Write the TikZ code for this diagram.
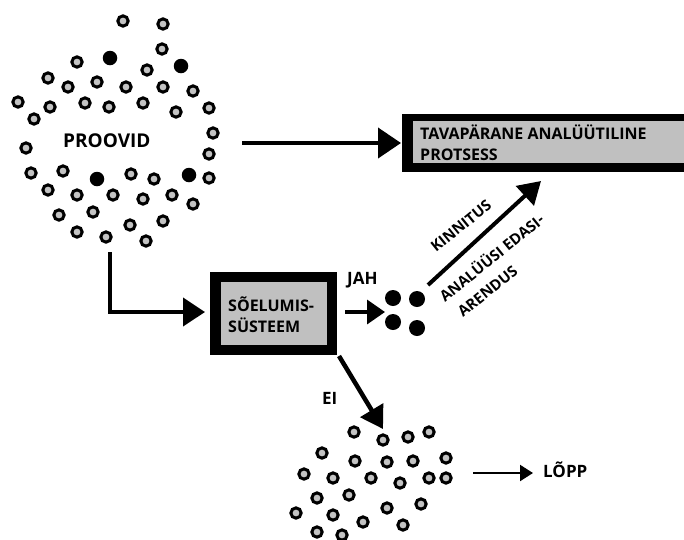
\documentclass[tikz,border=0pt]{standalone}
\usepackage{fontspec}
\setmainfont{Open Sans}
\usetikzlibrary{arrows.meta}
\definecolor{boxgray}{RGB}{192,192,192}
\definecolor{dotgray}{RGB}{195,195,195}
\begin{document}
\begin{tikzpicture}[x=1pt,y=-1pt,
  gdot/.style={circle,draw=black,fill=dotgray,line width=3pt,inner sep=0pt,minimum size=10.3pt},
  bdot/.style={circle,fill=black,inner sep=0pt,minimum size=14.5pt},
  jdot/.style={circle,fill=black,inner sep=0pt,minimum size=16pt},
  lbl/.style={font=\bfseries\fontsize{16}{20}\selectfont,inner sep=0pt,anchor=base west},
  plbl/.style={font=\bfseries\fontsize{19}{22}\selectfont,inner sep=0pt,anchor=base west},
  slbl/.style={font=\bfseries\fontsize{17}{20}\selectfont,inner sep=0pt,anchor=base west},
  rlbl/.style={font=\bfseries\fontsize{15}{18}\selectfont,inner sep=0pt,anchor=base west,rotate=39},
  bigarr/.style={line width=4pt,-{Triangle[length=23pt,width=30pt]}},
  midarr/.style={line width=3.5pt,-{Triangle[length=18pt,width=24pt]}},
  smallarr/.style={line width=2.2pt,-{Triangle[length=13pt,width=16pt]}}]
\useasboundingbox (0,0) rectangle (684,539);
\fill[white] (0,0) rectangle (684,539);

% top cluster
\foreach \x/\y [count=\i] in {123/21,163/24,162/49,77/62,147/70,48/78,68/87,97/82,126/87,163/87,193/91,18/102,50/107,85/103,109/107,143/103,176/112,209/108,34/119,213/133,26/148,209/154,31/173,63/171,131/174,154/179,209/178,48/190,77/195,113/195,143/199,172/195,193/204,59/215,93/212,130/225,163/221,77/232,106/237,146/241}
  \node[gdot] (t\i) at (\x,\y) {};
\foreach \x/\y [count=\i] in {110/58,181/66,97/179,189/175}
  \node[bdot] (tb\i) at (\x,\y) {};
\node[plbl] (proovid) at (63,147) {PROOVID};

% top box
\fill[black] (402,114) rectangle (684,172);
\fill[boxgray] (413,121) rectangle (684,163);
\node[lbl] (tav1) at (420,139) {TAVAPÄRANE ANALÜÜTILINE};
\node[lbl] (tav2) at (420,160) {PROTSESS};

% screening box
\fill[black] (210,272) rectangle (337,355);
\fill[boxgray] (221,282) rectangle (327,345);
\node[lbl] (s1) at (228,311) {SÕELUMIS-};
\node[lbl] (s2) at (228,332) {SÜSTEEM};

% four dots
\node[jdot] (j1) at (393,298) {};
\node[jdot] (j2) at (417,299) {};
\node[jdot] (j3) at (393,322) {};
\node[jdot] (j4) at (417,328) {};

% bottom cluster
\foreach \x/\y [count=\i] in {354/432,383/440,408/437,429/432,322/453,355/461,387/462,413/461,446/458,304/474,333/478,371/478,400/483,429/478,446/478,317/498,349/495,387/508,421/504,296/513,333/515,363/522,403/525,317/532,342/535}
  \node[gdot] (b\i) at (\x,\y) {};

% labels
\node[slbl] (jah) at (347,284) {JAH};
\node[slbl] (ei) at (322,404) {EI};
\node[slbl] (lopp) at (543,477) {LÕPP};
\node[rlbl] (kin) at (436,253) {KINNITUS};
\node[rlbl] (ana1) at (445,303) {ANALÜÜSI EDASI-};
\node[rlbl] (ana2) at (463,318) {ARENDUS};

% connector coordinates
\coordinate (pvR) at (242,143);
\coordinate (tboxL) at (401,143);
\coordinate (pvB) at (110,252);
\coordinate (sbL) at (205,312);
\coordinate (sbR) at (345,312);
\coordinate (jL) at (385,312);
\coordinate (jUR) at (428,285);
\coordinate (tboxB) at (541,181);
\coordinate (sbB) at (339,356);
\coordinate (bTop) at (383,429);
\coordinate (bR) at (473,473);
\coordinate (lopL) at (533,473);

% connectors
\draw[bigarr] (pvR) -- (tboxL);
\draw[line width=4pt,-{Triangle[length=22pt,width=28pt]}] (pvB) -- (pvB |- sbL) -- (sbL);
\draw[midarr] (sbR) -- (jL);
\draw[line width=4pt,-{Triangle[length=22pt,width=26pt]}] (jUR) -- (tboxB);
\draw[line width=4.5pt,-{Triangle[length=22pt,width=26pt]}] (sbB) -- (bTop);
\draw[smallarr] (bR) -- (lopL);
\end{tikzpicture}
\end{document}
